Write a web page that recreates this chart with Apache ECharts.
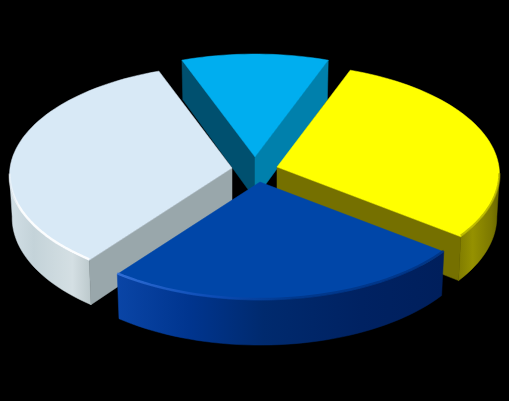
<!DOCTYPE html>
<html><head><meta charset="utf-8">
<style>html,body{margin:0;padding:0;background:#000}#c{width:509px;height:401px}</style>
<script src="https://cdn.jsdelivr.net/npm/echarts@6/dist/echarts.min.js"></script>
</head><body><div id="c"></div>
<script>
// Slices clockwise from the top slice; there is no visible text in the chart.
const categories = ['Slice 1', 'Slice 2', 'Slice 3', 'Slice 4'];
const values = [11.4, 29.7, 25, 33.9];

// Styles and projection, kept apart from the data
const startDeg = -20.5;
const tips = [[255,157],[277,167],[260,182],[232,168]];
const paintOrder = [0,1,3,2];
const A = 222, B = 110, K = 0.068, DEPTH = 42;
const G = (x0,x1,stops)=>new echarts.graphic.LinearGradient(x0,0,x1,0,stops.map(s=>({offset:s[0],color:s[1]})),true);
const styles = [
 {top:'#00AEEF', cutA:'#00506F', cutB:'#0080AC', wall:()=>'#0090c0', rim:null},
 {top:'#FFFF00', cutA:'#6F6A00', cutB:'#757000',
  wall:()=>G(458,500,[[0,'#7F7B00'],[0.35,'#959100'],[0.8,'#7C7800'],[1,'#666300']]),
  rim:()=>G(458,500,[[0,'rgba(130,125,0,0.5)'],[1,'rgba(130,125,0,0.5)']])},
 {top:'#0046A8', cutA:'#002B70', cutB:'#002B70',
  wall:()=>G(117,443,[[0,'#0A45A6'],[0.22,'#00358F'],[0.45,'#002A6E'],[0.75,'#002262'],[1,'#001F5C']]),
  rim:()=>G(117,443,[[0,'rgba(60,120,225,0.8)'],[0.3,'rgba(20,80,190,0.6)'],[0.55,'rgba(0,40,110,0.45)'],[1,'rgba(0,40,110,0.55)']])},
 {top:'#D8E9F6', cutA:'#99A7AB', cutB:'#A3B0B3',
  wall:()=>G(8,94,[[0,'#D2DFE6'],[0.3,'#C4D3D9'],[0.75,'#D4DFE3'],[1,'#B8C5C8']]),
  rim:()=>G(8,94,[[0,'rgba(255,255,255,0.25)'],[0.15,'rgba(255,255,255,0.9)'],[1,'rgba(255,255,255,0.9)']])}
];

const total = values.reduce((a,b)=>a+b,0);
function project(tip, deg, r){
  const t = deg*Math.PI/180, u = r*Math.sin(t), v = r*Math.cos(t), w = 1+K*v;
  return [tip[0]+A*u/w, tip[1]-B*v/w, DEPTH/w, A*u/w];
}
function arc(tip, a0, a1, r){
  const out=[], n=Math.max(8,Math.ceil(Math.abs(a1-a0)/2));
  for(let i=0;i<=n;i++) out.push(project(tip,a0+(a1-a0)*i/n,r));
  return out;
}
const down = p=>[p[0]-p[3]*0.012, p[1]+p[2]];
const flat = p=>[p[0],p[1]];

function renderItem(params, api){
  const i = params.dataIndex, value = api.value(0);
  let before = 0;
  for(let j=0;j<i;j++) before += values[j];
  const a0 = startDeg + before/total*360, a1 = a0 + value/total*360;
  const tip = tips[i], s = styles[i], z = paintOrder.indexOf(i)*10;
  const rim = arc(tip,a0,a1,1), tip0 = project(tip,0,0);
  const front = rim.filter(p=>p[1]>tip[1]+5);
  const poly = (pts,fill,dz)=>({type:'polygon',z2:z+dz,shape:{points:pts},
    style:{fill:fill,stroke:fill,lineWidth:0.5}});
  const kids = [];
  if(front.length>1) kids.push(poly(front.map(flat).concat(front.slice().reverse().map(down)),s.wall(),0));
  const sin = d=>Math.sin(d*Math.PI/180);
  if(sin(a0)<0) kids.push(poly([flat(tip0),flat(rim[0]),down(rim[0]),down(tip0)],s.cutA,1));
  if(sin(a1)>0) kids.push(poly([flat(tip0),flat(rim[rim.length-1]),down(rim[rim.length-1]),down(tip0)],s.cutB,2));
  kids.push(poly([flat(tip0)].concat(rim.map(flat)),s.top,3));
  if(s.rim && front.length>1){
    kids.push({type:'polyline',z2:z+4,shape:{points:front.map(p=>[p[0],p[1]-1])},
      style:{fill:null,stroke:s.rim(),lineWidth:2.5,lineCap:'butt'}});
  }
  return {type:'group',children:kids};
}

const chart = echarts.init(document.getElementById('c'),null,{renderer:'canvas'});
chart.setOption({
  animation:false,
  backgroundColor:'#000000',
  series:[{type:'custom',coordinateSystem:'none',renderItem,
    data:values.map((v,i)=>({name:categories[i],value:[v]}))}]
});
</script></body></html>
